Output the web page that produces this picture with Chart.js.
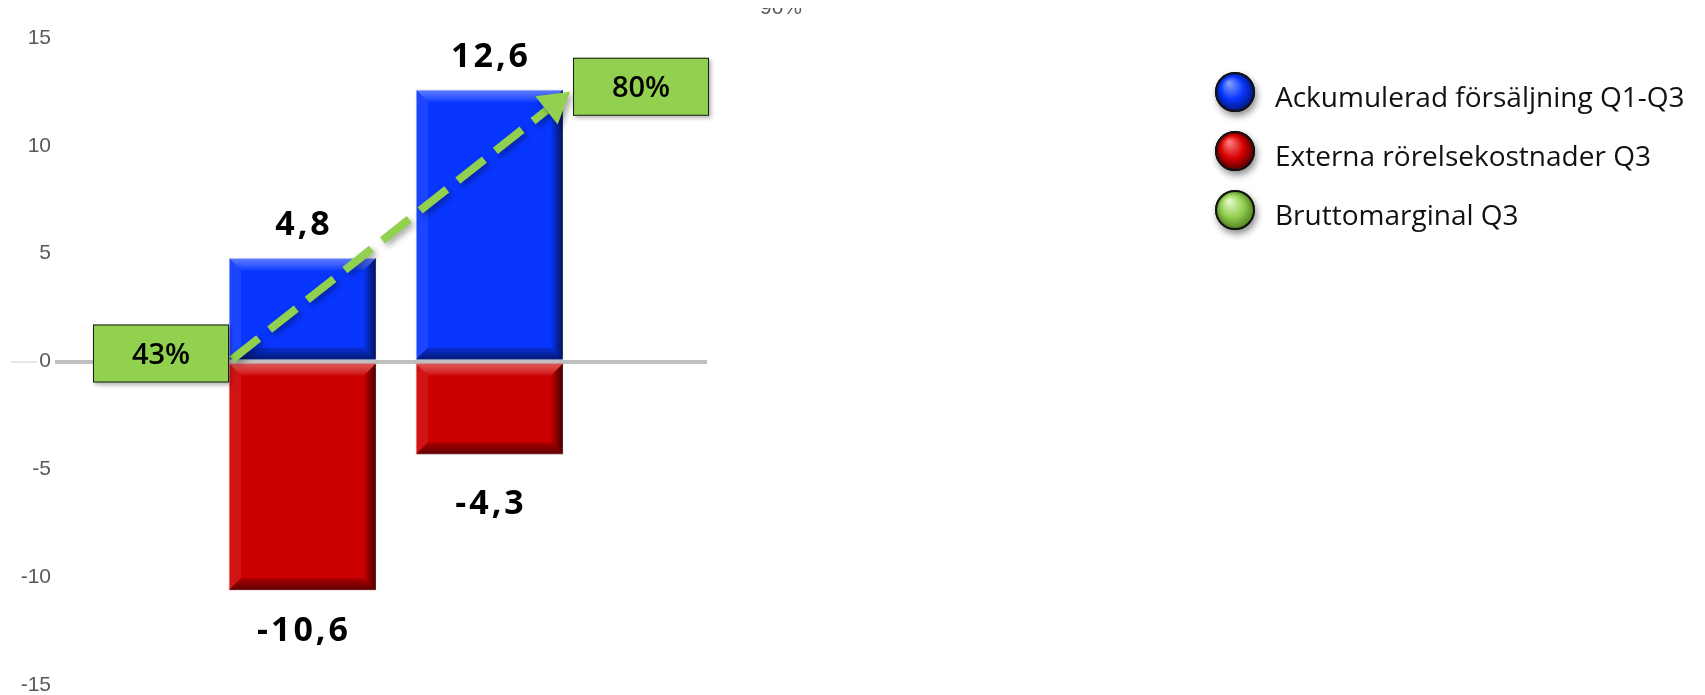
<!DOCTYPE html>
<html>
<head>
<meta charset="utf-8">
<script src="https://cdn.jsdelivr.net/npm/chart.js@4.4.0/dist/chart.umd.min.js"></script>
<style>
html,body{margin:0;padding:0;background:#fff;}
#wrap{width:1705px;height:695px;position:relative;}
</style>
</head>
<body>
<div id="wrap"><canvas id="c" width="1705" height="695"></canvas></div>
<script>
// ---- data ----
const periods = ['Period 1', 'Period 2'];
const seriesNames = ['Ackumulerad försäljning Q1-Q3', 'Externa rörelsekostnader Q3', 'Bruttomarginal Q3'];
const salesQ1Q3 = [4.8, 12.6];
const costsQ3 = [-10.6, -4.3];
const grossMarginQ3 = [43, 80];
const yTickValues = [-15, -10, -5, 0, 5, 10, 15];
const secondaryTopTick = '90%';

// ---- styles ----
const BLUE = '#0836ff', RED = '#cc0000', GREEN = '#92d050';
const negLabelGap = [51, 60];
const fmt = v => v.toFixed(1).replace('.', ',');
const toPoints = arr => arr.map((v, i) => ({ x: i + 1, y: v }));

function barGeom(el) {
  const p = el.getProps(['x', 'y', 'base', 'width'], true);
  return { left: p.x - p.width / 2, right: p.x + p.width / 2, top: Math.min(p.y, p.base), bottom: Math.max(p.y, p.base), x: p.x, y: p.y, base: p.base };
}

function poly(ctx, pts, fill) {
  ctx.beginPath();
  ctx.moveTo(pts[0][0], pts[0][1]);
  for (let i = 1; i < pts.length; i++) ctx.lineTo(pts[i][0], pts[i][1]);
  ctx.closePath();
  ctx.fillStyle = fill;
  ctx.fill();
}

const bevelPlugin = {
  id: 'bevel',
  afterDatasetsDraw(chart) {
    const ctx = chart.ctx;
    chart.data.datasets.forEach((ds, di) => {
      chart.getDatasetMeta(di).data.forEach(el => {
        const g = barGeom(el);
        const b = 12;
        const { left: l, right: r, top: t, bottom: bt } = g;
        ctx.save();
        let gr = ctx.createLinearGradient(0, t, 0, t + b);
        gr.addColorStop(0, 'rgba(255,255,255,0.34)');
        gr.addColorStop(0.45, 'rgba(255,255,255,0.24)');
        gr.addColorStop(1, 'rgba(255,255,255,0.05)');
        poly(ctx, [[l, t], [r, t], [r - b, t + b], [l + b, t + b]], gr);
        poly(ctx, [[l, t], [l + b, t + b], [l + b, bt - b], [l, bt]], 'rgba(255,255,255,0.08)');
        gr = ctx.createLinearGradient(r - b, 0, r, 0);
        gr.addColorStop(0, 'rgba(0,0,0,0.05)');
        gr.addColorStop(1, 'rgba(0,0,0,0.65)');
        poly(ctx, [[r, t], [r, bt], [r - b, bt - b], [r - b, t + b]], gr);
        gr = ctx.createLinearGradient(0, bt - b, 0, bt);
        gr.addColorStop(0, 'rgba(0,0,0,0.15)');
        gr.addColorStop(1, 'rgba(0,0,0,0.55)');
        poly(ctx, [[l, bt], [r, bt], [r - b, bt - b], [l + b, bt - b]], gr);
        ctx.restore();
      });
    });
  }
};

const annotatePlugin = {
  id: 'annotate',
  beforeDraw(chart) {
    const ctx = chart.ctx;
    const y0 = chart.scales.y.getPixelForValue(0);
    ctx.save();
    ctx.strokeStyle = '#d0d0d0';
    ctx.lineWidth = 1;
    ctx.beginPath();
    ctx.moveTo(11, y0 + 0.5);
    ctx.lineTo(37, y0 + 0.5);
    ctx.stroke();
    ctx.restore();
  },
  afterDraw(chart) {
    const ctx = chart.ctx;
    const salesBars = chart.getDatasetMeta(0).data.map(barGeom);
    const costBars = chart.getDatasetMeta(1).data.map(barGeom);

    // value labels
    ctx.save();
    ctx.fillStyle = '#000';
    ctx.font = 'bold 34px "Open Sans"';
    ctx.textAlign = 'center';
    ctx.textBaseline = 'alphabetic';
    try { ctx.letterSpacing = '3px'; } catch (e) {}
    salesBars.forEach((g, i) => ctx.fillText(fmt(salesQ1Q3[i]), g.x + 1.5, g.top - 23));
    costBars.forEach((g, i) => ctx.fillText(fmt(costsQ3[i]), g.x + 1.5, g.bottom + negLabelGap[i]));
    ctx.restore();

    // gross margin boxes & arrow
    const bw = 136, bh = 58;
    const b1 = salesBars[0], b2 = salesBars[1];
    const box1 = { x: b1.left - bw, y: b1.base - 6 - bh / 2 };
    const box2 = { x: b2.right + 10, y: b2.top - 3 - bh / 2 };
    const sx = b1.left + 3, sy = b1.base;
    const ex = box2.x - 3, ey = box2.y + bh / 2 + 5;
    const ang = Math.atan2(ey - sy, ex - sx);
    const headL = 30, headW = 18;
    const lx = ex - Math.cos(ang) * headL, ly = ey - Math.sin(ang) * headL;

    ctx.save();
    ctx.shadowColor = 'rgba(0,0,0,0.35)';
    ctx.shadowBlur = 6;
    ctx.shadowOffsetX = 3;
    ctx.shadowOffsetY = 3;
    ctx.strokeStyle = GREEN;
    ctx.lineWidth = 8;
    ctx.setLineDash([34, 14]);
    ctx.beginPath();
    ctx.moveTo(sx, sy);
    ctx.lineTo(lx, ly);
    ctx.stroke();
    ctx.setLineDash([]);
    ctx.fillStyle = GREEN;
    ctx.beginPath();
    ctx.moveTo(ex, ey);
    ctx.lineTo(lx + Math.cos(ang + Math.PI / 2) * headW, ly + Math.sin(ang + Math.PI / 2) * headW);
    ctx.lineTo(lx - Math.cos(ang + Math.PI / 2) * headW, ly - Math.sin(ang + Math.PI / 2) * headW);
    ctx.closePath();
    ctx.fill();
    ctx.restore();

    [box1, box2].forEach((bx, i) => {
      ctx.save();
      ctx.shadowColor = 'rgba(0,0,0,0.3)';
      ctx.shadowBlur = 4;
      ctx.shadowOffsetX = 2;
      ctx.shadowOffsetY = 2;
      ctx.fillStyle = GREEN;
      ctx.fillRect(bx.x, bx.y, bw, bh);
      ctx.restore();
      ctx.save();
      ctx.strokeStyle = '#1a1a1a';
      ctx.lineWidth = 1;
      ctx.strokeRect(bx.x + 0.5, bx.y + 0.5, bw - 1, bh - 1);
      ctx.fillStyle = '#000';
      ctx.font = '600 29px "Open Sans"';
      ctx.textAlign = 'center';
      ctx.textBaseline = 'middle';
      ctx.fillText(grossMarginQ3[i] + '%', bx.x + bw / 2, bx.y + bh / 2 + 2);
      ctx.restore();
    });

    // clipped secondary axis top label
    ctx.save();
    ctx.beginPath();
    ctx.rect(740, 8, 100, 20);
    ctx.clip();
    ctx.fillStyle = '#595959';
    ctx.font = '21px "Liberation Sans"';
    ctx.textAlign = 'left';
    ctx.textBaseline = 'alphabetic';
    ctx.fillText(secondaryTopTick, 760, 14);
    ctx.restore();

    // legend
    const colors = [
      ['#7f9bff', BLUE, '#001470'],
      ['#ff7a7a', '#d80000', '#4a0000'],
      ['#e4f8c8', GREEN, '#4d7a1e']
    ];
    seriesNames.forEach((name, i) => {
      const cx = 1235, cy = 92 + i * 59, r = 20;
      ctx.save();
      ctx.shadowColor = 'rgba(0,0,0,0.45)';
      ctx.shadowBlur = 7;
      ctx.shadowOffsetX = 2;
      ctx.shadowOffsetY = 4;
      const gr = ctx.createRadialGradient(cx - 6, cy - 9, 1, cx, cy, r);
      gr.addColorStop(0, colors[i][0]);
      gr.addColorStop(0.55, colors[i][1]);
      gr.addColorStop(1, colors[i][2]);
      ctx.fillStyle = gr;
      ctx.beginPath();
      ctx.arc(cx, cy, r, 0, Math.PI * 2);
      ctx.fill();
      ctx.restore();
      ctx.save();
      ctx.strokeStyle = '#111';
      ctx.lineWidth = 2;
      ctx.beginPath();
      ctx.arc(cx, cy, r - 1, 0, Math.PI * 2);
      ctx.stroke();
      ctx.fillStyle = '#111';
      ctx.font = '28px "Open Sans"';
      ctx.textAlign = 'left';
      ctx.textBaseline = 'alphabetic';
      ctx.fillText(name, 1275, cy + 15);
      ctx.restore();
    });
  }
};

new Chart(document.getElementById('c').getContext('2d'), {
  type: 'bar',
  data: {
    labels: periods,
    datasets: [
      { label: seriesNames[0], data: toPoints(salesQ1Q3), backgroundColor: BLUE, borderColor: '#b9c3e8', borderWidth: 1, barThickness: 147 },
      { label: seriesNames[1], data: toPoints(costsQ3), backgroundColor: RED, borderColor: '#f09090', borderWidth: 1, barThickness: 147 }
    ]
  },
  options: {
    responsive: false,
    animation: false,
    events: [],
    layout: { padding: { top: 38, bottom: 10, left: 0, right: 998 } },
    scales: {
      x: { type: 'linear', offset: false, min: -0.3235, max: 3.163, display: false, stacked: true },
      y: {
        stacked: true, min: -15, max: 15,
        afterFit: s => { s.width = 55; s.paddingTop = 0; s.paddingBottom = 0; },
        afterBuildTicks: s => { s.ticks = yTickValues.map(v => ({ value: v })); },
        ticks: { padding: 4, color: '#595959', font: { family: 'Liberation Sans', size: 21 } },
        grid: {
          drawTicks: false,
          color: c => (c.tick && c.tick.value === 0) ? '#bfbfbf' : 'rgba(0,0,0,0)',
          lineWidth: c => (c.tick && c.tick.value === 0) ? 4 : 0
        },
        border: { display: false }
      }
    },
    plugins: { legend: { display: false }, tooltip: { enabled: false } }
  },
  plugins: [bevelPlugin, annotatePlugin]
});
</script>
</body>
</html>
